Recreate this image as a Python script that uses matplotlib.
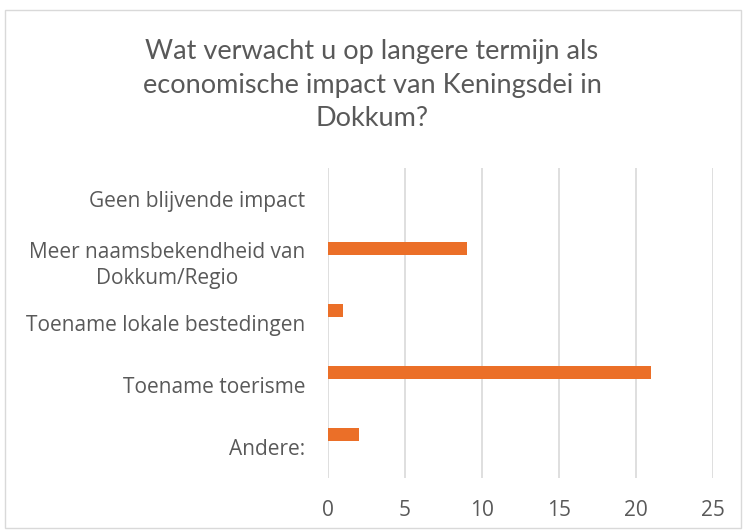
import numpy as np
import matplotlib
matplotlib.use('Agg')
import matplotlib.pyplot as plt
from matplotlib.patches import Rectangle

# antwoorden en aantallen (van boven naar beneden)
categorieen = ["Geen blijvende impact",
               "Meer naamsbekendheid van\nDokkum/Regio",
               "Toename lokale bestedingen",
               "Toename toerisme",
               "Andere:"]
aantallen = [0, 9, 1, 21, 2]
x_ticks = [0, 5, 10, 15, 20, 25]

titel = "Wat verwacht u op langere termijn als\neconomische impact van Keningsdei in\nDokkum?"

grijs = '#595959'
oranje = '#EB6F28'

fig = plt.figure(figsize=(7.44, 5.30), dpi=100)
# kader rond de grafiek
fig.patches.append(Rectangle((5 / 744, 2 / 530), 736 / 744, 518 / 530,
                             transform=fig.transFigure, fill=False,
                             edgecolor='#D9D9D9', linewidth=1))

ax = fig.add_axes([328 / 744, 1 - 478 / 530, 385 / 744, 310 / 530])
y = np.arange(len(categorieen))
ax.barh(y - 0.2, aantallen, height=0.21, color=oranje, zorder=3)

ax.set_xlim(0, 25)
ax.set_ylim(len(categorieen) - 0.5, -0.5)
ax.set_xticks(x_ticks)
ax.set_yticks(y)
ax.set_yticklabels(categorieen, ha='right', multialignment='center')
ax.grid(axis='x', color='#D9D9D9', linewidth=1.2, zorder=0)
for s in ax.spines.values():
    s.set_visible(False)
ax.tick_params(axis='both', length=0, colors=grijs, labelsize=15)
ax.tick_params(axis='x', pad=16)
ax.tick_params(axis='y', pad=16.5)
for lab in ax.get_xticklabels() + ax.get_yticklabels():
    lab.set_fontfamily('Open Sans')
    lab.set_color(grijs)
    lab.set_linespacing(1.3)

fig.text(0.5, 1 - 85 / 530, titel, ha='center', va='center', fontsize=19.5,
         color=grijs, family='Lato', linespacing=1.4)

fig.savefig('out.png', dpi=100)
